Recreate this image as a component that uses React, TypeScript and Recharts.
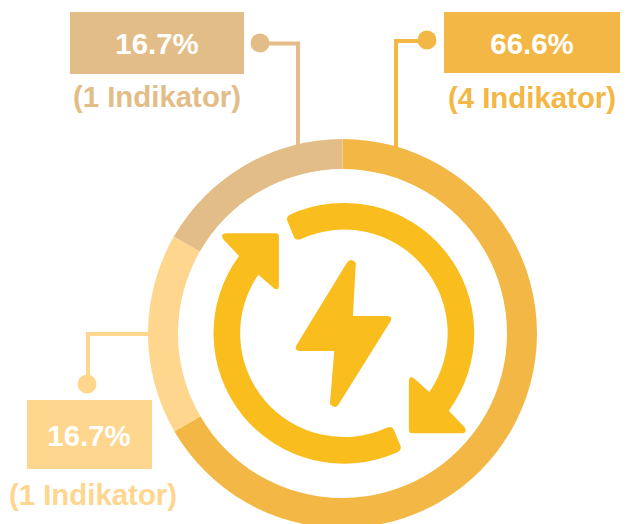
import React from "react";
import { PieChart, Pie, Cell, Customized } from "recharts";

const categories = ["Segment A", "Segment B", "Segment C"];
const values = [66.6, 16.7, 16.7];
const percentLabels = ["66.6%", "16.7%", "16.7%"];
const countLabels = ["(4 Indikator)", "(1 Indikator)", "(1 Indikator)"];

const DARK = "#F3B746";
const LIGHT = "#FED68E";
const TAN = "#E3BD87";
const ICON = "#F9BD1E";
const sliceColors = [DARK, LIGHT, TAN];
const FONT = "'Liberation Sans', Arial, sans-serif";

const chartData = categories.map((name, i) => ({ name, value: values[i] }));

const ARROW =
  "M -162,-356 A 391 391 0 0 1 314.7,232 L 362,282 Q 372,300 352,300 L 205,300 Q 195,300 195,290 L 195,145 Q 195,126 210,135 L 256.6,176 A 311 311 0 0 0 -130,-282.5 Q -145,-278 -150,-290 L -170,-338 Q -174,-350 -162,-356 Z";
const BOLT =
  "M 8,-210 Q 20,-228 36,-212 L 27,-52 L 127,-52 Q 148,-52 140,-36 L -17,215 Q -28,228 -42,212 L -29,53 L -134,53 Q -150,50 -142,35 Z";

function Icon() {
  return (
    <g transform="translate(343.9,333.3) scale(0.33333)" fill={ICON}>
      <path d={ARROW} />
      <path d={ARROW} transform="rotate(180)" />
      <path d={BOLT} />
    </g>
  );
}

function Callout({ i, x, y, w, h, cx, base, subCx, subBase, color, line, dot }: any) {
  return (
    <g fontFamily={FONT} fontWeight={700} fontSize={29.4} textAnchor="middle">
      <rect x={x} y={y} width={w} height={h} fill={color} />
      <text x={cx} y={base} fill="#ffffff">{percentLabels[i]}</text>
      <text x={subCx} y={subBase} fill={color}>{countLabels[i]}</text>
      <polyline points={line} fill="none" stroke={color} strokeWidth={4} />
      <circle cx={dot[0]} cy={dot[1]} r={9.5} fill={color} />
    </g>
  );
}

function Overlay() {
  return (
    <g>
      <Icon />
      <Callout i={0} x={444} y={12} w={176} h={61} cx={532} base={54} subCx={532} subBase={108} color={DARK}
        line="427,41 396,41 396,150" dot={[427, 40]} />
      <Callout i={2} x={70} y={12} w={174} h={62} cx={157} base={54} subCx={157} subBase={107} color={TAN}
        line="260,43.5 298,43.5 298,146" dot={[260, 43]} />
      <Callout i={1} x={27} y={400} w={125} h={69} cx={89} base={446} subCx={93} subBase={505} color={LIGHT}
        line="152,334 88,334 88,384" dot={[87, 384]} />
    </g>
  );
}

export default function App() {
  return (
    <div style={{ position: "absolute", left: 0, top: 0, width: 635, height: 524, overflow: "hidden", background: "#fff" }}>
      <PieChart width={635} height={524} margin={{ top: 0, right: 0, bottom: 0, left: 0 }}>
        <Pie
          data={chartData}
          dataKey="value"
          nameKey="name"
          cx={342.5}
          cy={333.5}
          innerRadius={164.5}
          outerRadius={194.5}
          startAngle={90}
          endAngle={-270}
          stroke="none"
          isAnimationActive={false}
        >
          {chartData.map((d, i) => (
            <Cell key={d.name} fill={sliceColors[i]} />
          ))}
        </Pie>
        <Customized component={Overlay} />
      </PieChart>
    </div>
  );
}
